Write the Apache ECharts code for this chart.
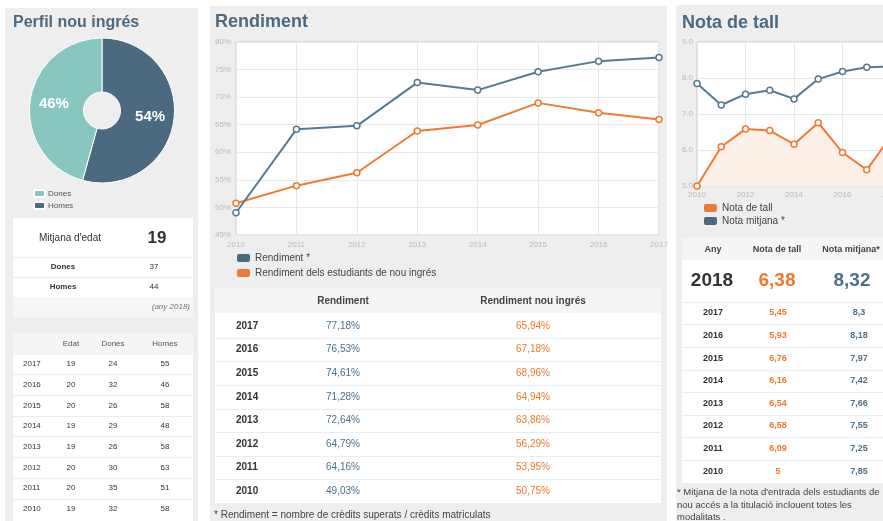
<!DOCTYPE html>
<html>
<head>
<meta charset="utf-8">
<script src="https://cdn.jsdelivr.net/npm/echarts/dist/echarts.min.js"></script>
<style>
html,body{margin:0;padding:0;background:#fff;}
#chart{width:883px;height:521px;}
</style>
</head>
<body>
<div id="chart"></div>
<script>
// ---------- DATA ----------
const pieNames = ['Dones', 'Homes'];
const pieValues = [37, 44];            // nou ingrés (any 2018)
const edatMitjana = 19;
const anyReferencia = 2018;

const perfilYears = ['2017', '2016', '2015', '2014', '2013', '2012', '2011', '2010'];
const perfilEdat  = [19, 20, 20, 19, 19, 20, 20, 19];
const perfilDones = [24, 32, 26, 29, 26, 30, 35, 32];
const perfilHomes = [55, 46, 58, 48, 58, 63, 51, 58];

const rendYears = ['2010', '2011', '2012', '2013', '2014', '2015', '2016', '2017'];
const rendValues    = [49.03, 64.16, 64.79, 72.64, 71.28, 74.61, 76.53, 77.18];
const rendNouValues = [50.75, 53.95, 56.29, 63.86, 64.94, 68.96, 67.18, 65.94];

const notaYears = ['2010', '2011', '2012', '2013', '2014', '2015', '2016', '2017', '2018'];
const notaTall    = [5, 6.09, 6.58, 6.54, 6.16, 6.76, 5.93, 5.45, 6.38];
const notaMitjana = [7.85, 7.25, 7.55, 7.66, 7.42, 7.97, 8.18, 8.3, 8.32];

const rendLegend = ['Rendiment *', 'Rendiment dels estudiants de nou ingrés'];
const notaLegend = ['Nota de tall', 'Nota mitjana *'];

// ---------- STYLE ----------
const FONT = '"Liberation Sans", Arial, Helvetica, sans-serif';
const BLUE = '#587a90';
const BLUE_TXT = '#4e7088';
const ORANGE = '#ef7a34';
const ORANGE_TXT = '#f0782c';
const TITLE = '#4b6a80';
const PANEL = '#eeeeee';
const HEAD = '#f5f5f5';
const SEP = '#e7edf2';
const pieColors = { 'Dones': '#88c6c0', 'Homes': '#4b697f' };

const G = [];
function R(x, y, w, h, fill, z) {
  G.push({ type: 'rect', silent: true, z: z, shape: { x: x, y: y, width: w, height: h }, style: { fill: fill } });
}
function L(x1, y, x2, stroke) {
  G.push({ type: 'line', silent: true, z: -4, shape: { x1: x1, y1: y + 0.5, x2: x2, y2: y + 0.5 }, style: { stroke: stroke || SEP, lineWidth: 1 } });
}
function T(x, y, text, o) {
  o = o || {};
  const a = o.a || 'center';
  G.push({
    type: 'text', silent: true, z: 5, x: x, y: y,
    style: {
      text: String(text), fill: o.c || '#333', fontSize: o.s || 10,
      fontWeight: o.w || 'normal', fontStyle: o.i ? 'italic' : 'normal', fontFamily: FONT,
      align: a, verticalAlign: 'middle', textAlign: a, textVerticalAlign: 'middle'
    }
  });
}
const fmtPct = v => v.toFixed(2).replace('.', ',') + '%';
const fmtNum = v => String(v).replace('.', ',');

// panels
R(5, 8, 193, 513, PANEL, -20);
R(210, 6, 457, 515, PANEL, -20);
R(676, 5, 207, 516, PANEL, -20);

// titles
T(13, 23, 'Perfil nou ingrés', { s: 16, w: 'bold', c: TITLE, a: 'left' });
T(215, 22, 'Rendiment', { s: 18, w: 'bold', c: TITLE, a: 'left' });
T(682, 23, 'Nota de tall', { s: 18, w: 'bold', c: TITLE, a: 'left' });

// card: mitjana d'edat
R(13, 218, 180, 99, '#fff', -10);
R(13, 297, 180, 20, '#f6f6f6', -9);
T(70, 238, "Mitjana d'edat", { s: 10 });
T(157, 238, edatMitjana, { s: 17, w: 'bold' });
L(13, 257, 193);
T(63, 267, pieNames[0], { s: 8, w: 'bold' });
T(154, 267, pieValues[0], { s: 8 });
L(13, 277, 193);
T(63, 287, pieNames[1], { s: 8, w: 'bold' });
T(154, 287, pieValues[1], { s: 8 });
T(190, 307, '(any ' + anyReferencia + ')', { s: 8, i: true, c: '#777', a: 'right' });

// card: perfil per any
R(13, 333, 180, 188, '#fff', -10);
R(13, 333, 180, 22, HEAD, -9);
T(71, 344, 'Edat', { s: 8, c: '#555' });
T(113, 344, 'Dones', { s: 8, c: '#555' });
T(165, 344, 'Homes', { s: 8, c: '#555' });
perfilYears.forEach((yr, i) => {
  const y = 364 + i * 20.7;
  T(23, y, yr, { s: 8, a: 'left' });
  T(71, y, perfilEdat[i], { s: 8 });
  T(113, y, perfilDones[i], { s: 8 });
  T(165, y, perfilHomes[i], { s: 8 });
  if (i < perfilYears.length - 1) L(13, Math.round(y + 10.3), 193);
});

// card: rendiment table
R(215, 288, 446, 215, '#fff', -10);
R(215, 288, 446, 25, HEAD, -9);
T(343, 301, 'Rendiment', { s: 10, w: 'bold', c: '#444' });
T(533, 301, 'Rendiment nou ingrés', { s: 10, w: 'bold', c: '#444' });
const rn = rendYears.length;
for (let i = 0; i < rn; i++) {
  const k = rn - 1 - i;
  const y = 326 + i * 23.6;
  T(236, y, rendYears[k], { s: 10, w: 'bold', a: 'left' });
  T(343, y, fmtPct(rendValues[k]), { s: 10, c: BLUE_TXT });
  T(533, y, fmtPct(rendNouValues[k]), { s: 10, c: ORANGE_TXT });
  if (i < rn - 1) L(215, Math.round(y + 11.8), 661);
}
T(214, 515, '* Rendiment = nombre de crèdits superats / crèdits matriculats', { s: 10, c: '#444', a: 'left' });

// card: nota de tall table
R(682, 238, 201, 245, '#fff', -10);
R(682, 238, 201, 22, HEAD, -9);
T(713, 250, 'Any', { s: 9, w: 'bold', c: '#444' });
T(777, 250, 'Nota de tall', { s: 9, w: 'bold', c: '#444' });
T(851, 250, 'Nota mitjana*', { s: 9, w: 'bold', c: '#444' });
const nn = notaYears.length;
T(712, 281, notaYears[nn - 1], { s: 19, w: 'bold', c: '#333' });
T(777, 281, fmtNum(notaTall[nn - 1]), { s: 19, w: 'bold', c: ORANGE_TXT });
T(852, 281, fmtNum(notaMitjana[nn - 1]), { s: 19, w: 'bold', c: BLUE_TXT });
L(682, 302, 883);
for (let i = 0; i < nn - 1; i++) {
  const k = nn - 2 - i;
  const y = 313 + i * 22.6;
  T(713, y, notaYears[k], { s: 9, w: 'bold' });
  T(778, y, fmtNum(notaTall[k]), { s: 9, w: 'bold', c: ORANGE_TXT });
  T(859, y, fmtNum(notaMitjana[k]), { s: 9, w: 'bold', c: BLUE_TXT });
  if (i < nn - 2) L(682, Math.round(y + 11.3), 883);
}
T(677, 492, "* Mitjana de la nota d'entrada dels estudiants de", { s: 9.5, c: '#444', a: 'left' });
T(677, 505, 'nou accés a la titulació inclouent totes les', { s: 9.5, c: '#444', a: 'left' });
T(677, 517, 'modalitats .', { s: 9.5, c: '#444', a: 'left' });

// ---------- CHART ----------
const axisLbl = { color: '#b9b9b9', fontSize: 8, fontFamily: FONT };
const gridLine = { lineStyle: { color: '#e8e8e8', width: 1 } };
function lineSeries(name, data, color, xi, extra) {
  return Object.assign({
    name: name, type: 'line', xAxisIndex: xi, yAxisIndex: xi, data: data,
    symbol: 'circle', symbolSize: 6, showSymbol: true,
    lineStyle: { color: color, width: 2 },
    itemStyle: { color: '#fff', borderColor: color, borderWidth: 1.5 },
    emphasis: { disabled: true }, z: 3
  }, extra || {});
}
const legendText = { fontSize: 10, color: '#444', fontFamily: FONT, lineHeight: 12 };

const option = {
  animation: false,
  backgroundColor: '#fff',
  graphic: { elements: G },
  grid: [
    { left: 236, top: 42, width: 423, height: 193, show: true, backgroundColor: '#fff', borderColor: '#cdcdcd', borderWidth: 1,
      containLabel: false, outerBoundsMode: 'none' },
    { left: 697, top: 42, width: 194, height: 144, show: true, backgroundColor: '#fff', borderColor: '#cdcdcd', borderWidth: 1,
      containLabel: false, outerBoundsMode: 'none' }
  ],
  xAxis: [
    { gridIndex: 0, type: 'category', data: rendYears, boundaryGap: false,
      axisLine: { show: false }, axisTick: { show: false },
      axisLabel: Object.assign({ margin: 6, interval: 0 }, axisLbl), splitLine: Object.assign({ show: true }, gridLine) },
    { gridIndex: 1, type: 'category', data: notaYears, boundaryGap: false,
      axisLine: { show: false }, axisTick: { show: false },
      axisLabel: Object.assign({ margin: 5, interval: 1 }, axisLbl), splitLine: Object.assign({ show: true, interval: 1 }, gridLine) }
  ],
  yAxis: [
    { gridIndex: 0, type: 'value', min: 45, max: 80, interval: 5,
      axisLine: { show: false }, axisTick: { show: false },
      axisLabel: Object.assign({ margin: 5, formatter: '{value}%' }, axisLbl), splitLine: gridLine },
    { gridIndex: 1, type: 'value', min: 5, max: 9, interval: 1,
      axisLine: { show: false }, axisTick: { show: false },
      axisLabel: Object.assign({ margin: 4, formatter: v => v.toFixed(1) }, axisLbl), splitLine: gridLine }
  ],
  legend: [
    { data: pieNames, left: 28, top: 183, orient: 'vertical', icon: 'roundRect', itemWidth: 11, itemHeight: 7, itemGap: 1,
      selectedMode: false, textStyle: { fontSize: 8, color: '#555', fontFamily: FONT, lineHeight: 11, padding: [0, 0, 0, -2] } },
    { data: [{ name: rendLegend[0], itemStyle: { color: '#4b6a80', borderWidth: 0 } },
             { name: rendLegend[1], itemStyle: { color: ORANGE, borderWidth: 0 } }],
      left: 232, top: 247, orient: 'vertical', icon: 'roundRect', itemWidth: 13, itemHeight: 8, itemGap: 3,
      selectedMode: false, textStyle: legendText },
    { data: [{ name: notaLegend[0], itemStyle: { color: ORANGE, borderWidth: 0 } },
             { name: notaLegend[1], itemStyle: { color: '#4b6a80', borderWidth: 0 } }],
      left: 699, top: 197, orient: 'vertical', icon: 'roundRect', itemWidth: 13, itemHeight: 8, itemGap: 1,
      selectedMode: false, textStyle: legendText }
  ],
  series: [
    { type: 'pie', center: [102, 110.5], radius: [18.5, 72.5], startAngle: 90, clockwise: true,
      percentPrecision: 0, emphasis: { disabled: true },
      itemStyle: { borderColor: '#fff', borderWidth: 1 },
      label: { position: 'inside', formatter: '{d}%', color: '#fff', fontSize: 15, fontWeight: 'bold', fontFamily: FONT },
      labelLine: { show: false },
      data: pieNames.map((n, i) => ({ name: n, value: pieValues[i], itemStyle: { color: pieColors[n] } })).reverse() },
    lineSeries(rendLegend[1], rendNouValues, ORANGE, 0),
    lineSeries(rendLegend[0], rendValues, BLUE, 0),
    lineSeries(notaLegend[0], notaTall, ORANGE, 1, { areaStyle: { color: '#fcefe5', opacity: 1 } }),
    lineSeries(notaLegend[1], notaMitjana, BLUE, 1)
  ]
};
const chart = echarts.init(document.getElementById('chart'), null, { renderer: 'canvas' });
chart.setOption(option);
</script>
</body>
</html>
